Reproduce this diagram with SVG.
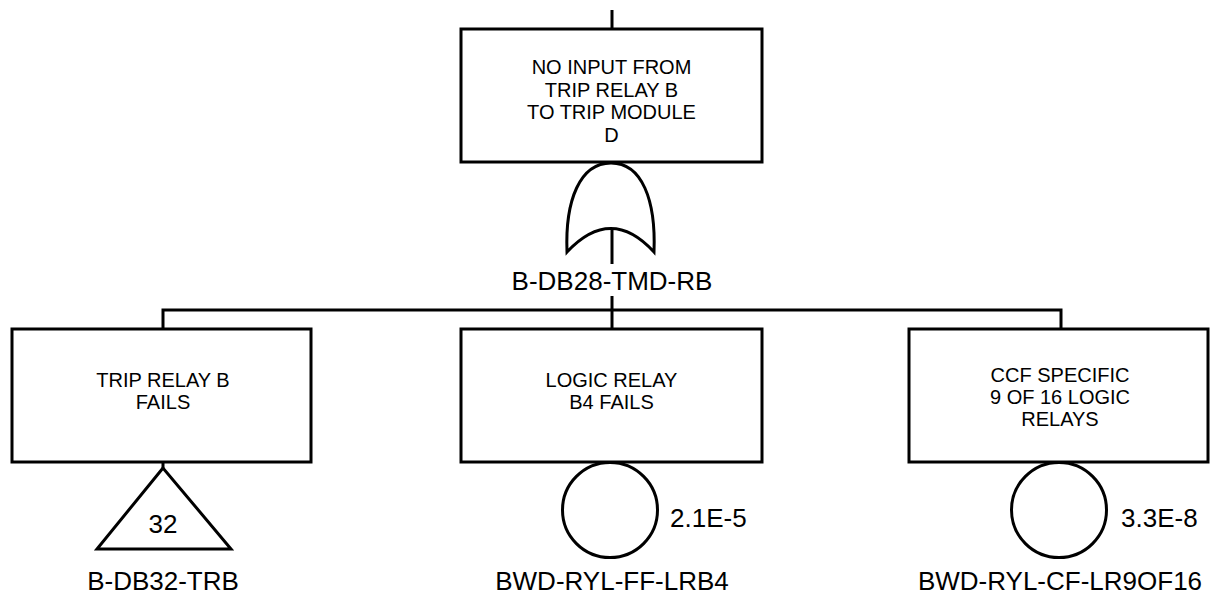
<svg xmlns="http://www.w3.org/2000/svg" width="1210" height="597" viewBox="0 0 1210 597">
<style>
.box{fill:#fff;stroke:#000;stroke-width:3;stroke-linejoin:miter}
.ln{fill:none;stroke:#000;stroke-width:3}
.sym{fill:#fff;stroke:#000;stroke-width:3}
.t{font-family:"Liberation Sans",Arial,sans-serif;font-size:20px;text-anchor:middle;fill:#000}
.lb{font-family:"Liberation Sans",Arial,sans-serif;font-size:26px;text-anchor:middle;fill:#000}
.pr{font-family:"Liberation Sans",Arial,sans-serif;font-size:26px;text-anchor:start;fill:#000}
</style>
<rect width="1210" height="597" fill="#fff"/>
<g id="connectors">
<line class="ln" x1="612" y1="10" x2="612" y2="29"/>
<line class="ln" x1="612" y1="296" x2="612" y2="329"/>
<polyline class="ln" points="163,329 163,310 1061,310 1061,329"/>
<line class="ln" x1="163" y1="462" x2="163" y2="468"/>
</g>
<g id="top-event">
<rect class="box" x="461" y="29" width="301" height="133"/>
<text class="t" x="611.5" y="74">NO INPUT FROM</text>
<text class="t" x="611.5" y="96.5">TRIP RELAY B</text>
<text class="t" x="611.5" y="119">TO TRIP MODULE</text>
<text class="t" x="611.5" y="141.5">D</text>
</g>
<g id="or-gate">
<path class="sym" d="M567,252 C565,200 580,163 611,163 C642,163 656,200 654,252 Q611,205 567,252 Z"/>
<line class="ln" x1="612" y1="228" x2="612" y2="264"/>
<text class="lb" x="612" y="290">B-DB28-TMD-RB</text>
</g>
<g id="trip-relay">
<rect class="box" x="12" y="329" width="299" height="133"/>
<text class="t" x="163" y="386.5">TRIP RELAY B</text>
<text class="t" x="163" y="408.5">FAILS</text>
</g>
<g id="transfer-32">
<polygon class="sym" points="163,468 97,549 231,549"/>
<text class="lb" x="163" y="533">32</text>
<text class="lb" x="163" y="590">B-DB32-TRB</text>
</g>
<g id="logic-relay">
<rect class="box" x="461" y="329" width="301" height="133"/>
<text class="t" x="611.5" y="386.5">LOGIC RELAY</text>
<text class="t" x="611.5" y="408.5">B4 FAILS</text>
</g>
<g id="basic-lrb4">
<circle class="sym" cx="610" cy="510" r="47.5"/>
<text class="pr" x="670" y="527">2.1E-5</text>
<text class="lb" x="612" y="590">BWD-RYL-FF-LRB4</text>
</g>
<g id="ccf-relays">
<rect class="box" x="909" y="329" width="299" height="133"/>
<text class="t" x="1060" y="381.5">CCF SPECIFIC</text>
<text class="t" x="1060" y="403.5">9 OF 16 LOGIC</text>
<text class="t" x="1060" y="425.5">RELAYS</text>
</g>
<g id="basic-lr9of16">
<circle class="sym" cx="1059" cy="510" r="47.5"/>
<text class="pr" x="1121" y="527">3.3E-8</text>
<text class="lb" x="1060" y="590">BWD-RYL-CF-LR9OF16</text>
</g>
</svg>
